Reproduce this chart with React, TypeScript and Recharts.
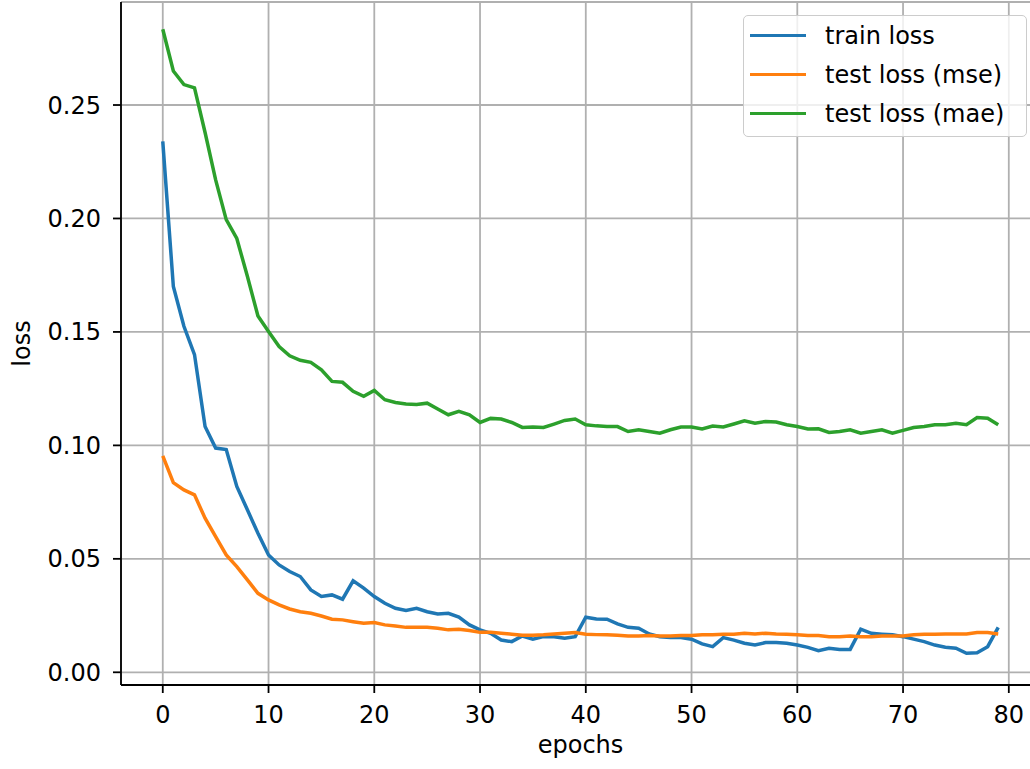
import React from 'react';
import {
    LineChart,
    Line,
    XAxis,
    YAxis,
    CartesianGrid,
    Legend,
} from 'recharts';

// loss per epoch
const trainLoss = [
    0.234, 0.170, 0.1525, 0.140, 0.1083, 0.0988, 0.0982, 0.0819, 0.0716, 0.0613,
    0.0517, 0.0473, 0.0444, 0.0422, 0.0363, 0.0334, 0.0341, 0.0322, 0.0403, 0.0371,
    0.0334, 0.0304, 0.0282, 0.0272, 0.0282, 0.0267, 0.0257, 0.026, 0.0243, 0.0209,
    0.0187, 0.0172, 0.0142, 0.0135, 0.016, 0.0146, 0.0157, 0.0157, 0.015, 0.0157,
    0.0243, 0.0235, 0.0234, 0.0213, 0.0198, 0.0194, 0.0169, 0.0157, 0.0153, 0.0153,
    0.0146, 0.0125, 0.0113, 0.0153, 0.0142, 0.0128, 0.012, 0.0131, 0.0131, 0.0128,
    0.012, 0.011, 0.0095, 0.0106, 0.0101, 0.0101, 0.019, 0.0172, 0.0168, 0.0165,
    0.0157, 0.0146, 0.0135, 0.012, 0.011, 0.0106, 0.0084, 0.0086, 0.0113, 0.0198,
];

const testMse = [
    0.0954, 0.0836, 0.0804, 0.0782, 0.0679, 0.0598, 0.0517, 0.0466, 0.0407, 0.0348,
    0.0319, 0.0297, 0.0279, 0.0267, 0.026, 0.0248, 0.0234, 0.0231, 0.0223, 0.0216,
    0.0219, 0.0209, 0.0204, 0.0198, 0.0198, 0.0198, 0.0194, 0.0187, 0.019, 0.0184,
    0.0176, 0.0176, 0.0172, 0.0168, 0.0163, 0.0163, 0.0165, 0.0169, 0.0172, 0.0175,
    0.0168, 0.0166, 0.0165, 0.0163, 0.016, 0.016, 0.0162, 0.016, 0.016, 0.0162,
    0.0162, 0.0165, 0.0166, 0.0168, 0.0168, 0.0172, 0.0169, 0.0172, 0.0169, 0.0168,
    0.0165, 0.0162, 0.0162, 0.0157, 0.0157, 0.016, 0.0157, 0.0157, 0.016, 0.016,
    0.016, 0.0165, 0.0168, 0.0168, 0.0169, 0.0169, 0.0169, 0.0175, 0.0175, 0.0169,
];

const testMae = [
    0.2834, 0.265, 0.259, 0.2576, 0.2379, 0.217, 0.1995, 0.1912, 0.1745, 0.157,
    0.1502, 0.1436, 0.1395, 0.1375, 0.1366, 0.1333, 0.1282, 0.1278, 0.1238, 0.1216,
    0.1242, 0.1201, 0.1189, 0.1182, 0.1180, 0.1186, 0.116, 0.1135, 0.115, 0.1135,
    0.1101, 0.1119, 0.1116, 0.1101, 0.1079, 0.1081, 0.1079, 0.1094, 0.111, 0.1116,
    0.1091, 0.1086, 0.1083, 0.1083, 0.1061, 0.1069, 0.1061, 0.1054, 0.1069, 0.1081,
    0.1081, 0.1072, 0.1085, 0.1081, 0.1094, 0.1108, 0.1098, 0.1105, 0.1103, 0.1091,
    0.1083, 0.1072, 0.1073, 0.1057, 0.1061, 0.1069, 0.1054, 0.1061, 0.1069, 0.1054,
    0.1066, 0.1079, 0.1083, 0.1091, 0.1091, 0.1098, 0.1091, 0.1123, 0.112, 0.1091,
];

const seriesNames = ['train loss', 'test loss (mse)', 'test loss (mae)'];
const xTicks = [0, 10, 20, 30, 40, 50, 60, 70, 80];
const yTicks = [0, 0.05, 0.1, 0.15, 0.2, 0.25];

const FONT = '"DejaVu Sans", sans-serif';

const chartData = trainLoss.map((v, i) => ({
    epoch: i,
    train: v,
    mse: testMse[i],
    mae: testMae[i],
}));

const renderLegend = (props: any) => {
    const payload = [...(props.payload || [])].sort(
        (a: any, b: any) =>
            seriesNames.indexOf(a.value) - seriesNames.indexOf(b.value),
    );
    return (
        <div
            style={{
                width: 282,
                height: 117,
                paddingBottom: 3,
                border: '1px solid #cccccc',
                borderRadius: 5,
                background: 'rgba(255,255,255,0.8)',
                fontFamily: FONT,
                fontSize: 24,
                color: '#000',
            }}
        >
            {payload.map((item: any) => (
                <div
                    key={item.value}
                    style={{
                        height: 39,
                        display: 'flex',
                        alignItems: 'center',
                        lineHeight: 1,
                    }}
                >
                    <div
                        style={{
                            width: 56,
                            height: 3.5,
                            marginLeft: 6,
                            marginRight: 19,
                            background: item.color,
                        }}
                    />
                    <span>{item.value}</span>
                </div>
            ))}
        </div>
    );
};

export default function App() {
    return (
        <div
            style={{
                position: 'absolute',
                left: 0,
                top: 0,
                width: 1030,
                height: 769,
                overflow: 'hidden',
                background: '#fff',
            }}
        >
            <LineChart
                width={1060}
                height={769}
                data={chartData}
                margin={{ top: 2, right: 20, bottom: 0, left: 0 }}
            >
                <CartesianGrid
                    stroke="#b0b0b0"
                    strokeWidth={1.8}
                />

                <XAxis
                    dataKey="epoch"
                    type="number"
                    domain={[-3.95, 82.95]}
                    ticks={xTicks}
                    allowDataOverflow
                    height={84}
                    tickSize={8}
                    tickMargin={13}
                    axisLine={{ stroke: '#000', strokeWidth: 1.8 }}
                    tickLine={{ stroke: '#000', strokeWidth: 1.8 }}
                    tick={{ fill: '#000', fontSize: 24, fontFamily: FONT }}
                    label={{
                        value: 'epochs',
                        position: 'insideBottom',
                        offset: 16,
                        style: { fill: '#000', fontSize: 24, fontFamily: FONT },
                    }}
                />

                {/* top spine */}
                <XAxis
                    xAxisId="top"
                    orientation="top"
                    type="number"
                    domain={[-3.95, 82.95]}
                    height={0}
                    tick={false}
                    tickLine={false}
                    axisLine={{ stroke: '#000', strokeWidth: 1.8 }}
                />

                <YAxis
                    type="number"
                    domain={[-0.0056, 0.2954]}
                    ticks={yTicks}
                    allowDataOverflow
                    width={121}
                    tickSize={8}
                    tickMargin={12}
                    tickFormatter={(v: number) => v.toFixed(2)}
                    axisLine={{ stroke: '#000', strokeWidth: 1.8 }}
                    tickLine={{ stroke: '#000', strokeWidth: 1.8 }}
                    tick={{ fill: '#000', fontSize: 24, fontFamily: FONT }}
                    label={{
                        value: 'loss',
                        angle: -90,
                        position: 'insideLeft',
                        offset: 21,
                        style: {
                            fill: '#000',
                            fontSize: 24,
                            fontFamily: FONT,
                            textAnchor: 'middle',
                        },
                    }}
                />

                {/* right spine (cropped in the reference) */}
                <YAxis
                    yAxisId="right"
                    orientation="right"
                    width={0}
                    tick={false}
                    tickLine={false}
                    axisLine={{ stroke: '#000', strokeWidth: 1.8 }}
                />

                <Legend
                    layout="vertical"
                    align="center"
                    verticalAlign="middle"
                    content={renderLegend}
                    wrapperStyle={{ left: 743, top: 15, width: 284 }}
                />

                <Line
                    type="linear"
                    dataKey="train"
                    name={seriesNames[0]}
                    stroke="#1f77b4"
                    strokeWidth={3.5}
                    dot={false}
                    isAnimationActive={false}
                />
                <Line
                    type="linear"
                    dataKey="mse"
                    name={seriesNames[1]}
                    stroke="#ff7f0e"
                    strokeWidth={3.5}
                    dot={false}
                    isAnimationActive={false}
                />
                <Line
                    type="linear"
                    dataKey="mae"
                    name={seriesNames[2]}
                    stroke="#2ca02c"
                    strokeWidth={3.5}
                    dot={false}
                    isAnimationActive={false}
                />
            </LineChart>
        </div>
    );
}
